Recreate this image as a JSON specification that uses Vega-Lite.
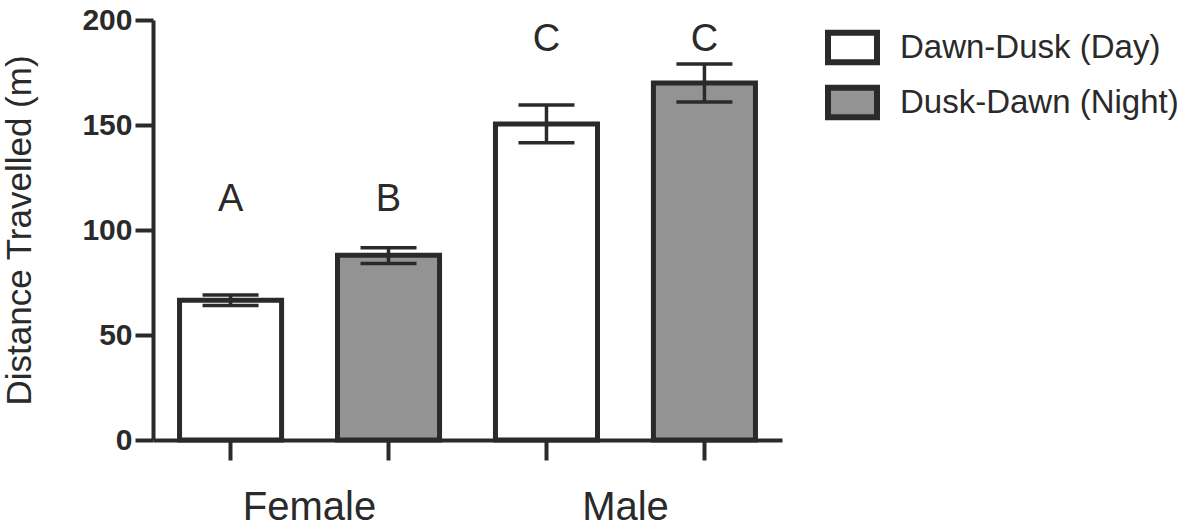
{
  "$schema": "https://vega.github.io/schema/vega-lite/v6.json",
  "autosize": "none",
  "width": 629,
  "height": 420,
  "padding": {"left": 153, "top": 20, "right": 418, "bottom": 89},
  "background": "white",
  "config": {
    "view": {"stroke": null},
    "font": "Liberation Sans"
  },
  "data": {
    "values": [
      {"sex": "Female", "period": "Dawn-Dusk (Day)", "bar": "Female Day", "mean": 66.5, "lo": 64, "hi": 69, "letter": "A", "letterY": 114.5},
      {"sex": "Female", "period": "Dusk-Dawn (Night)", "bar": "Female Night", "mean": 88, "lo": 84, "hi": 91.5, "letter": "B", "letterY": 114.5},
      {"sex": "Male", "period": "Dawn-Dusk (Day)", "bar": "Male Day", "mean": 150.5, "lo": 141.5, "hi": 159.5, "letter": "C", "letterY": 190.5},
      {"sex": "Male", "period": "Dusk-Dawn (Night)", "bar": "Male Night", "mean": 170, "lo": 161, "hi": 179, "letter": "C", "letterY": 190.5}
    ]
  },
  "encoding": {
    "x": {
      "field": "bar",
      "type": "nominal",
      "sort": ["Female Day", "Female Night", "Male Day", "Male Night"],
      "scale": {"paddingInner": 0.354, "paddingOuter": 0.168},
      "axis": {
        "title": null,
        "labelExpr": "datum.value == 'Female Day' ? 'Female' : datum.value == 'Male Day' ? 'Male' : ''",
        "labelOffset": 79,
        "labelAngle": 0,
        "labelFontSize": 40,
        "labelColor": "#2a2a2a",
        "labelPadding": 27,
        "labelBaseline": "top",
        "labelLimit": 0,
        "tickSize": 20,
        "tickWidth": 4,
        "tickColor": "#2a2a2a",
        "domainWidth": 4,
        "domainColor": "#2a2a2a",
        "labelFont": "Liberation Sans"
      }
    }
  },
  "layer": [
    {
      "mark": {"type": "bar", "stroke": "#2a2a2a", "strokeWidth": 5},
      "encoding": {
        "y": {
          "field": "mean",
          "type": "quantitative",
          "scale": {"domain": [0, 200], "nice": false},
          "axis": {
            "title": "Distance Travelled (m)",
            "titleFontSize": 35,
            "titleFontWeight": "normal",
            "titleColor": "#2a2a2a",
            "titlePadding": 44,
            "titleFont": "Liberation Sans",
            "values": [0, 50, 100, 150, 200],
            "grid": false,
            "labelFontSize": 30,
            "labelFontWeight": "bold",
            "labelColor": "#2a2a2a",
            "labelPadding": 3,
            "tickSize": 18,
            "tickWidth": 4,
            "tickColor": "#2a2a2a",
            "domainWidth": 4,
            "domainColor": "#2a2a2a",
            "labelFont": "Liberation Sans"
          }
        },
        "fill": {
          "field": "period",
          "type": "nominal",
          "scale": {"domain": ["Dawn-Dusk (Day)", "Dusk-Dawn (Night)"], "range": ["#ffffff", "#939393"]},
          "legend": {
            "title": null,
            "orient": "none",
            "legendX": 672,
            "legendY": 0,
            "symbolType": "M-1,-0.6H1V0.6H-1Z",
            "symbolSize": 2401,
            "symbolStrokeWidth": 6,
            "symbolStrokeColor": "#2a2a2a",
            "symbolOpacity": 1,
            "labelFontSize": 33,
            "labelColor": "#2a2a2a",
            "labelFont": "Liberation Sans",
            "labelOffset": 20,
            "labelLimit": 0,
            "rowPadding": -5,
            "padding": 0
          }
        }
      }
    },
    {
      "mark": {"type": "rule", "stroke": "#2a2a2a", "strokeWidth": 3.5},
      "encoding": {
        "y": {"field": "lo", "type": "quantitative"},
        "y2": {"field": "hi"}
      }
    },
    {
      "mark": {"type": "tick", "color": "#2a2a2a", "size": 56, "thickness": 3.5, "opacity": 1},
      "encoding": {
        "y": {"field": "lo", "type": "quantitative"}
      }
    },
    {
      "mark": {"type": "tick", "color": "#2a2a2a", "size": 56, "thickness": 3.5, "opacity": 1},
      "encoding": {
        "y": {"field": "hi", "type": "quantitative"}
      }
    },
    {
      "mark": {"type": "text", "fontSize": 38, "color": "#2a2a2a", "baseline": "middle", "font": "Liberation Sans"},
      "encoding": {
        "y": {"field": "letterY", "type": "quantitative"},
        "text": {"field": "letter"}
      }
    }
  ]
}
